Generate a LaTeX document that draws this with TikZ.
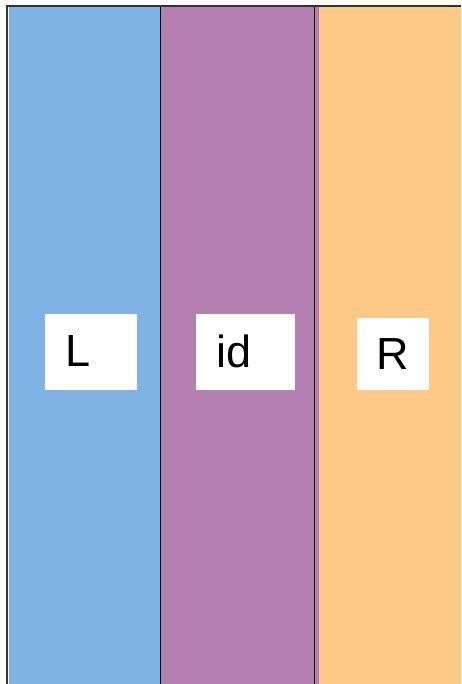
\documentclass[tikz,border=0pt]{standalone}
\usepackage{fontspec}
\setmainfont{Liberation Sans}
\definecolor{cblue}{RGB}{127,178,229}
\definecolor{cpurple}{RGB}{180,128,178}
\definecolor{corange}{RGB}{255,201,135}
\begin{document}
\begin{tikzpicture}[x=1pt,y=-1pt,
  strip/.style={draw=none,inner sep=0pt,anchor=north west},
  labelbox/.style={fill=white,draw=none,inner sep=0pt,anchor=north west},
  labeltext/.style={inner sep=0pt,font=\fontsize{45}{45}\selectfont,text=black}]
\useasboundingbox (0,0) rectangle (461,684);
\fill[white] (0,0) rectangle (461,684);
% strips
\fill[cblue] (9,7) rectangle (160,684);
\fill[cpurple] (160,7) rectangle (319,684);
\fill[corange] (319,7) rectangle (461,684);
% lines
\coordinate (tl) at (6.5,6);
\coordinate (bl) at (6.5,684);
\coordinate (tr) at (461,6.5);
\coordinate (m1t) at (160.5,7);
\coordinate (m1b) at (160.5,684);
\coordinate (m2t) at (314.5,7);
\coordinate (m2b) at (314.5,684);
\draw[line width=2pt,black!80] (tl) -- (bl);
\draw[line width=2pt,black!80] (5.5,6.5) -- (tr);
\draw[line width=1.2pt,black] (m1t) -- (m1b);
\draw[line width=1.5pt,black] (m2t) -- (m2b);
% boxes
\node[labelbox,minimum width=92,minimum height=76] (Lbox) at (45,314) {};
\node[labelbox,minimum width=99,minimum height=76] (idbox) at (196,314) {};
\node[labelbox,minimum width=72,minimum height=72] (Rbox) at (357,318) {};
\node[labeltext] (Lt) at (78,351) {L};
\node[labeltext] (idt) at (234,351) {id};
\node[labeltext] (Rt) at (393,354) {R};
\end{tikzpicture}
\end{document}
